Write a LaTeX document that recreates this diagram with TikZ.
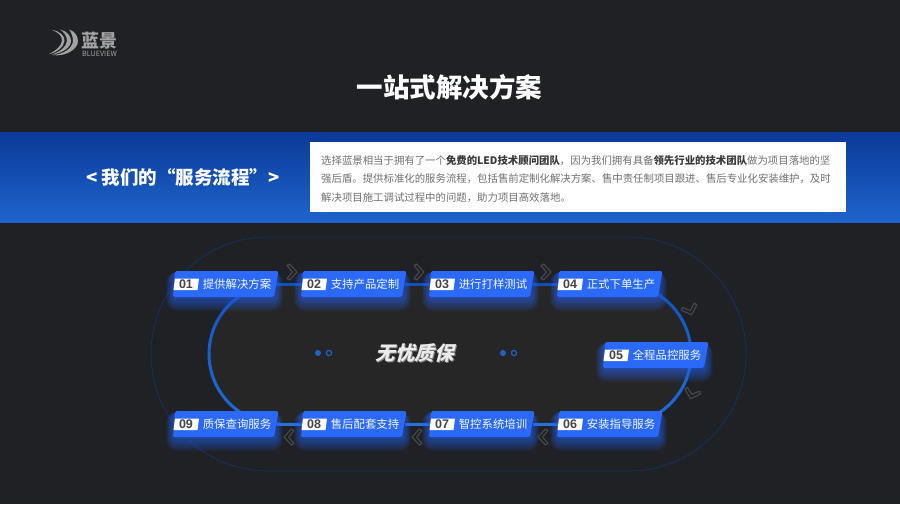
\documentclass[tikz,border=0pt]{standalone}
\usepackage{fontspec}
\setmainfont{Noto Sans CJK SC}
\newfontfamily\numfont{Liberation Sans}
\usetikzlibrary{calc}
\definecolor{pagebg}{HTML}{1F2125}
\definecolor{innerbg}{HTML}{262626}
\definecolor{bandtop}{HTML}{0B3A98}
\definecolor{bandbot}{HTML}{1E64CC}
\definecolor{cardblue}{HTML}{2A69FA}
\definecolor{trackdark}{HTML}{0F4FBE}
\definecolor{tracklight}{HTML}{2374E0}
\definecolor{outerline}{HTML}{14305F}
\definecolor{chev}{HTML}{47494D}
\definecolor{logogrey}{HTML}{A3A3A3}
\definecolor{dotblue}{HTML}{1F63C8}
\definecolor{bodygrey}{HTML}{707070}
\definecolor{bodydark}{HTML}{3A3A3A}
\definecolor{numgrey}{HTML}{444444}
\pgfdeclarelayer{bglayer}
\pgfdeclarelayer{tracklayer}
\pgfdeclarelayer{glowlayer}
\pgfsetlayers{bglayer,tracklayer,glowlayer,main}
\newcommand{\bodybf}[1]{{\bfseries\color{bodydark}#1}}
\newcommand{\stepcard}[5]{%
  \begin{pgfonlayer}{glowlayer}
  \begin{scope}[shift={(#2,#3)}]
    \foreach \w in {1,2,...,16}{
      \pgfmathsetmacro{\rr}{1.5+\w*.6}
      \fill[cardblue,opacity=.05,rounded corners=\rr pt]
        ({1-\w*.5},{3-\w*.15}) rectangle ({102+\w*.5},{26+\w*.9});
    }
  \end{scope}
  \end{pgfonlayer}
  \begin{scope}[shift={(#2,#3)}]
    \fill[cardblue,rounded corners=1.6pt] (2,0)--(105.5,0)--(101,26)--(0,26)--cycle;
    \fill[white] (2,7.5)--(26,7.5)--(24.5,19)--(0.5,19)--cycle;
    \node[cardnum] (#1n) at (13,13.4) {#4};
    \node[cardtext] (#1t) at (64,13.4) {#5};
    \node[cardslot] (#1) at (52.5,13) {};
  \end{scope}}
\tikzset{
  cardnum/.style={font=\numfont\bfseries\fontsize{12.5}{12}\selectfont,text=numgrey,inner sep=0pt},
  cardtext/.style={font=\fontsize{11.4}{12}\selectfont,text=white!95!cardblue,inner sep=0pt},
  cardslot/.style={minimum width=103pt,minimum height=26pt,inner sep=0pt},
  track/.style={line width=3pt},
  chevpath/.style={draw=chev,line width=1.1pt,line join=round},
  pics/chevron/.style={code={
    \draw[chevpath] (-5,-6.5)--(-2.4,-8)--(5,0)--(-2.4,8)--(-5,6.5)--(0.4,0)--cycle;
  }}
}
\begin{document}
\begin{tikzpicture}[x=1pt,y=-1pt]
\useasboundingbox (0,0) rectangle (900,504);
\begin{pgfonlayer}{bglayer}
  \fill[pagebg] (0,0) rectangle (900,504);
  \path[top color=bandtop,bottom color=bandbot] (0,132) rectangle (900,222);
  \fill[white] (310,142) rectangle (846,212);
  \draw[outerline,line width=.9pt,rounded corners=117pt] (151,237) rectangle (746,471);
  \fill[innerbg,rounded corners=70pt] (209,284) rectangle (691,424);
\end{pgfonlayer}

% logo
\fill[logogrey] (52,30) .. controls (60,31) and (65,36) .. (64.5,41) .. controls (64,47) and (56,53) .. (49,54) .. controls (55,51) and (61,47) .. (62,41) .. controls (62.5,36) and (58,32) .. (52,30) -- cycle;
\fill[logogrey] (60,29.5) .. controls (67,31) and (71,36) .. (71,41) .. controls (71,47) and (63,53) .. (52,54.6) .. controls (60,51.5) and (66.5,47) .. (67,41) .. controls (67,36) and (64,32) .. (60,29.5) -- cycle;
\fill[logogrey] (69,29.5) .. controls (74.5,31) and (78,36) .. (78,41) .. controls (78,49) and (66,57) .. (52,55) .. controls (64,54.5) and (72.5,48) .. (73,41) .. controls (73,36) and (71,32) .. (69,29.5) -- cycle;
\node[font=\bfseries\fontsize{18}{18}\selectfont,text=logogrey,inner sep=0pt] (logocn) at (99.5,41) {蓝景};
\node[font=\fontsize{7.2}{7}\selectfont,text=logogrey,inner sep=0pt] (logoen) at (99.5,53.6) {BLUEVIEW};

% headings
\node[font=\bfseries\fontsize{26.5}{28}\selectfont,text=white,inner sep=0pt] (title) at (449.5,87) {一站式解决方案};
\node[font=\bfseries\fontsize{18.5}{20}\selectfont,text=white,inner sep=0pt] (bandlabel) at (183,177) {< 我们的“服务流程”>};
\node[font=\fontsize{10.4}{18.5}\selectfont,text=bodygrey,inner sep=0pt,anchor=west,align=left] (bodytext) at (321,178.8)
 {选择蓝景相当于拥有了一个\bodybf{免费的LED技术顾问团队}，因为我们拥有具备\bodybf{领先行业的技术团队}做为项目落地的坚\\
  强后盾。提供标准化的服务流程，包括售前定制化解决方案、售中责任制项目跟进、售后专业化安装维护，及时\\
  解决项目施工调试过程中的问题，助力项目高效落地。};

% cards
\stepcard{c1}{173}{271}{01}{提供解决方案}
\stepcard{c2}{301}{271}{02}{支持产品定制}
\stepcard{c3}{429}{271}{03}{进行打样测试}
\stepcard{c4}{557}{271}{04}{正式下单生产}
\stepcard{c5}{603}{342}{05}{全程品控服务}
\stepcard{c6}{557}{411}{06}{安装指导服务}
\stepcard{c7}{429}{411}{07}{智控系统培训}
\stepcard{c8}{301}{411}{08}{售后配套支持}
\stepcard{c9}{173}{411}{09}{质保查询服务}

% connectors
\coordinate (rc) at (621,354);
\coordinate (lc) at (279,354);
\begin{pgfonlayer}{tracklayer}
  \draw[track,trackdark] (c1)--(c2);
  \draw[track,trackdark] (c2)--(c3);
  \draw[track,trackdark] (c3)--(c4);
  \draw[track,tracklight] (c6)--(c7);
  \draw[track,tracklight] (c7)--(c8);
  \draw[track,tracklight] (c8)--(c9);
  \foreach \a in {-90,-80,...,80}{
    \pgfmathtruncatemacro{\p}{(\a+90)/1.8}
    \draw[line width=3pt,color=tracklight!\p!trackdark] ($(rc)+(\a:70)$) arc[start angle=\a,end angle=\a+10.5,radius=70];
    \draw[line width=3pt,color=tracklight!\p!trackdark] ($(lc)+({180-\a}:70)$) arc[start angle=180-\a,end angle=180-\a-10.5,radius=70];
  }
\end{pgfonlayer}

% chevrons
\pic at (292,272) {chevron};
\pic at (419,272) {chevron};
\pic at (546,272) {chevron};
\pic[rotate=-70] at (690,310) {chevron};
\pic[rotate=-107] at (692,394) {chevron};
\pic[rotate=180] at (543,437) {chevron};
\pic[rotate=180] at (417,437) {chevron};
\pic[rotate=180] at (289,437) {chevron};

% centre
\fill[dotblue] (318,353) circle[radius=3];
\draw[dotblue,line width=1.2pt] (329,353) circle[radius=2.6];
\fill[dotblue] (503,353) circle[radius=3];
\draw[dotblue,line width=1.2pt] (514,353) circle[radius=2.6];
\node[font=\bfseries\fontsize{19.5}{20}\selectfont,text=gray,inner sep=0pt,xslant=.27,transform shape] (centreshadow) at (417.6,353.6) {无忧质保};
\node[font=\bfseries\fontsize{19.5}{20}\selectfont,text=white!92!black,inner sep=0pt,xslant=.27,transform shape] (centre) at (417,353) {无忧质保};
\end{tikzpicture}
\end{document}
